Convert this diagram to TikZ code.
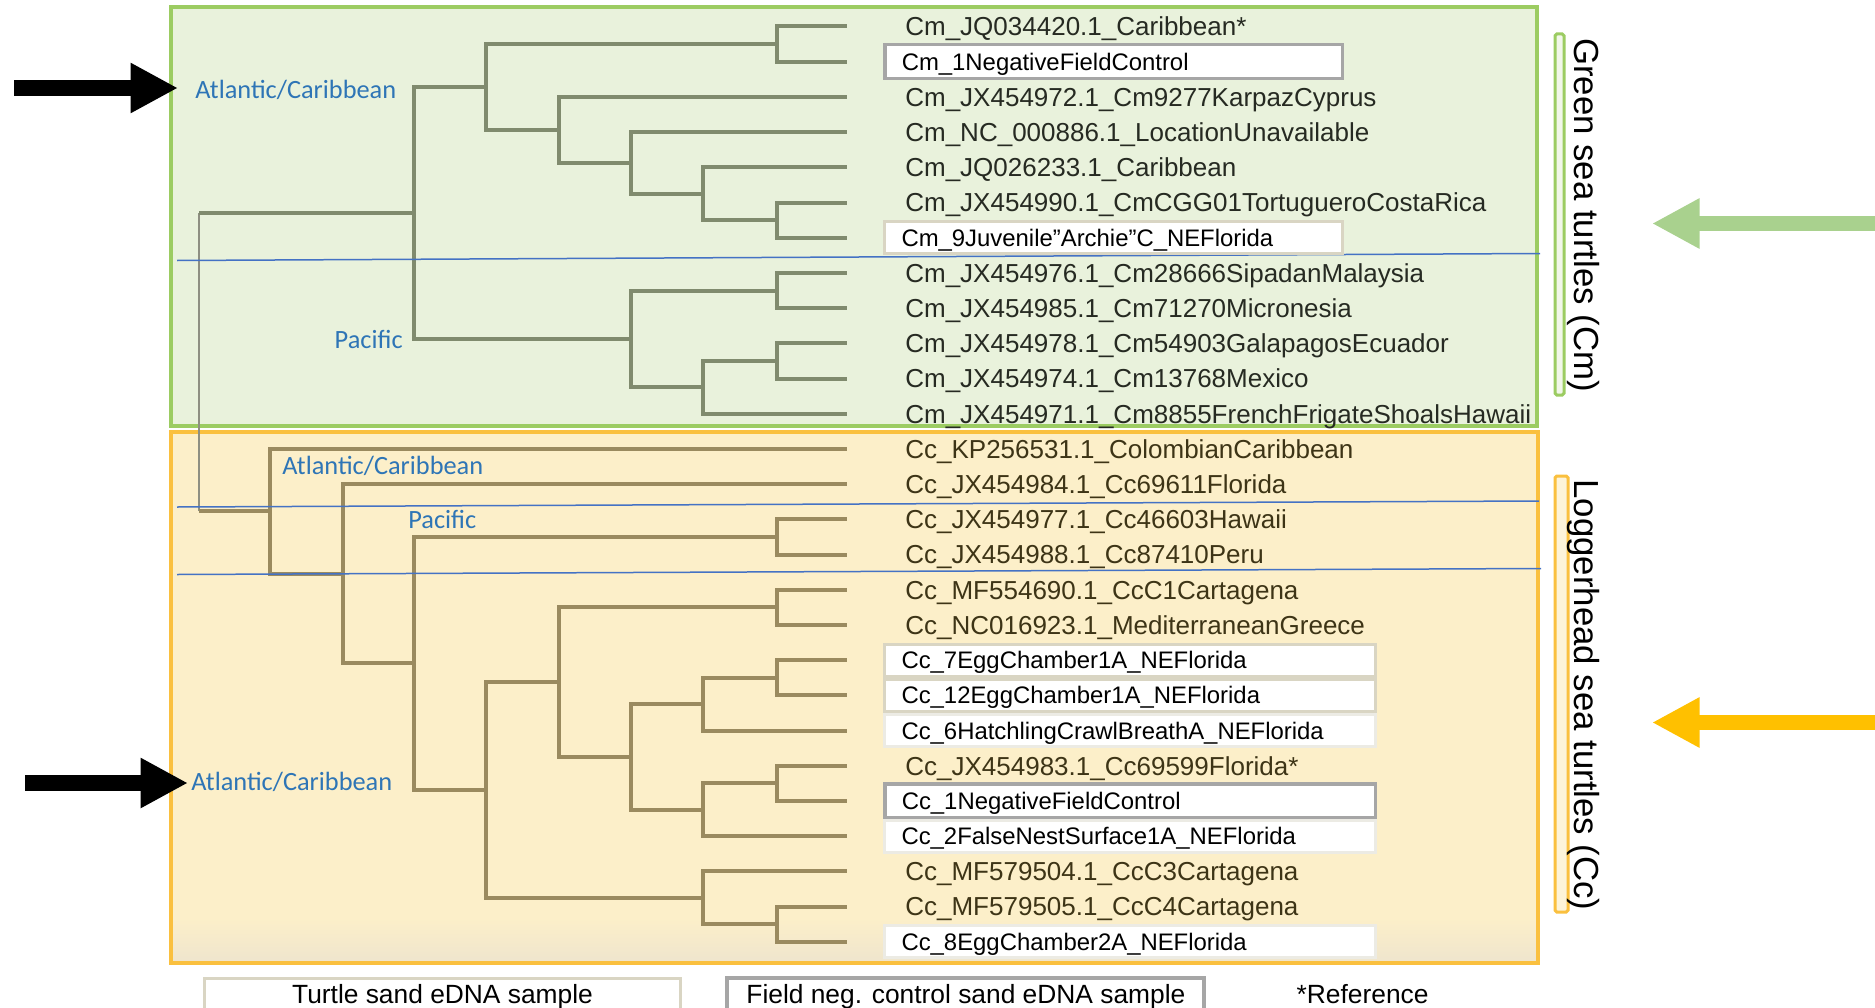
\documentclass[tikz,border=0pt]{standalone}
\usepackage{fontspec}
\setmainfont{Liberation Sans}
\newfontfamily\calibrifont{Carlito}
\usepackage{xcolor}
\usetikzlibrary{arrows.meta, positioning, calc}
\definecolor{cmfill}{HTML}{E9F2DC}
\definecolor{cmedge}{HTML}{9CCC62}
\definecolor{ccfill}{HTML}{FCEFC9}
\definecolor{ccshade}{HTML}{EFE5CD}
\definecolor{ccedge}{HTML}{FAC03F}
\definecolor{cmline}{HTML}{808B6E}
\definecolor{ccline}{HTML}{9A8A5F}
\definecolor{rootline}{HTML}{8E8F82}
\definecolor{cmtext}{HTML}{262A22}
\definecolor{cctext}{HTML}{3D3416}
\definecolor{regionblue}{HTML}{2E75B6}
\definecolor{splitblue}{HTML}{4472C4}
\definecolor{negedge}{HTML}{A6A6A6}
\definecolor{sampleedge}{HTML}{D9D5C3}
\definecolor{paleedge}{HTML}{ECEBE4}
\definecolor{cmarrow}{HTML}{A9D18E}
\definecolor{ccarrow}{HTML}{FFC000}
\tikzset{
  cmbr/.style    ={draw=cmline, line width=0.08cm},
  ccbr/.style    ={draw=ccline, line width=0.08cm},
  rootbr/.style  ={draw=rootline, line width=0.05cm},
  leaf/.style    ={inner sep=0pt, font=\fontsize{14.8}{17}\selectfont,
                   text height=10.6pt, text depth=0pt},
  sample/.style  ={rectangle, draw=sampleedge, line width=0.06cm, fill=white,
                   inner xsep=0.34cm, inner ysep=0pt, minimum height=0.64cm,
                   text height=9.7pt, text depth=0pt, align=left,
                   font=\fontsize{13.6}{16}\selectfont},
  negsample/.style={sample, draw=negedge, line width=0.07cm, minimum height=0.68cm},
  palesample/.style={sample, draw=paleedge},
  region/.style  ={font=\calibrifont\fontsize{15}{17}\selectfont, text=regionblue,
                   inner sep=0pt, text height=9.7pt, text depth=0pt},
  split/.style   ={draw=splitblue, line width=0.03cm},
  pointer/.style ={line width=0.32cm, -{Triangle[length=0.95cm, width=0.94cm]}}
}
\begin{document}
\begin{tikzpicture}[
  x=0.02cm, y=-0.02cm,
  cmwide/.style={text width=8.48cm},
  ccwide/.style={text width=9.14cm},
  turtle/.style={font=\fontsize{19.8}{22}\selectfont, inner sep=0pt,
                 text height=14.2pt, text depth=0pt, rotate=-90},
  legendbox/.style={rectangle, fill=white, line width=0.06cm,
                 minimum width=9.54cm, minimum height=0.66cm, inner sep=0pt,
                 text height=10.7pt, text depth=0pt, font=\fontsize{15}{18}\selectfont},
  keytext/.style={inner sep=0pt, text height=10.7pt, text depth=0pt,
                 font=\fontsize{15}{18}\selectfont}
]
\clip (0,0) rectangle (1875,1007);

%  Species panels 
\draw[draw=cmedge, fill=cmfill, line width=0.07cm] (171,7) rectangle (1537,426);
\fill[ccfill] (171,432) rectangle (1538,963);
\shade[top color=ccfill, bottom color=ccshade] (172,918) rectangle (1537,962);
\draw[draw=ccedge, line width=0.07cm] (171,432) rectangle (1538,963);
\draw[draw=cmedge, fill=cmfill!60!white, line width=0.06cm, rounded corners=1pt]
      (1555,34) rectangle (1564,395);
\draw[draw=ccedge, fill=ccfill!70!white, line width=0.06cm, rounded corners=1pt]
      (1555,476) rectangle (1568,912);

%  Leaf tips 
\foreach \i in {1,...,27}
  \coordinate (t\i) at (847,{26.5+35.2*(\i-1)});

%  Cm clade 
\coordinate (cmA12)   at (777,44.1);
\coordinate (cmA67)   at (777,220.1);
\coordinate (cmA5)    at (703,193.7);
\coordinate (cmA4)    at (631,162.9);
\coordinate (cmA3)    at (559,129.9);
\coordinate (cmAtl)   at (486,87.0);
\coordinate (cmP89)   at (777,290.5);
\coordinate (cmP1011) at (777,360.9);
\coordinate (cmP12)   at (703,387.3);
\coordinate (cmPac)   at (631,338.9);
\coordinate (cmRoot)  at (414,213.0);
\draw[cmbr] (cmA12) |- (t1) (cmA12) |- (t2);
\draw[cmbr] (cmA67) |- (t6) (cmA67) |- (t7);
\draw[cmbr] (cmA5) |- (t5) (cmA5) |- (cmA67);
\draw[cmbr] (cmA4) |- (t4) (cmA4) |- (cmA5);
\draw[cmbr] (cmA3) |- (t3) (cmA3) |- (cmA4);
\draw[cmbr] (cmAtl) |- (cmA12) (cmAtl) |- (cmA3);
\draw[cmbr] (cmP89) |- (t8) (cmP89) |- (t9);
\draw[cmbr] (cmP1011) |- (t10) (cmP1011) |- (t11);
\draw[cmbr] (cmP12) |- (cmP1011) (cmP12) |- (t12);
\draw[cmbr] (cmPac) |- (cmP89) (cmPac) |- (cmP12);
\draw[cmbr] (cmRoot) |- (cmAtl) (cmRoot) |- (cmPac);

%  Cc clade 
\coordinate (ccP1516) at (777,536.9);
\coordinate (cc1718)  at (777,607.3);
\coordinate (cc1920)  at (777,677.7);
\coordinate (cc21)    at (703,704.1);
\coordinate (cc2223)  at (777,783.3);
\coordinate (cc24)    at (703,809.7);
\coordinate (cc631)   at (631,756.9);
\coordinate (cc559)   at (559,682.1);
\coordinate (cc2627)  at (777,924.1);
\coordinate (cc25)    at (703,897.7);
\coordinate (ccAtl)   at (486,789.9);
\coordinate (cc414)   at (414,663.4);
\coordinate (cc343)   at (343,573.8);
\coordinate (ccRoot)  at (270,511.3);
\draw[ccbr] (ccP1516) |- (t15) (ccP1516) |- (t16);
\draw[ccbr] (cc1718) |- (t17) (cc1718) |- (t18);
\draw[ccbr] (cc1920) |- (t19) (cc1920) |- (t20);
\draw[ccbr] (cc21) |- (cc1920) (cc21) |- (t21);
\draw[ccbr] (cc2223) |- (t22) (cc2223) |- (t23);
\draw[ccbr] (cc24) |- (cc2223) (cc24) |- (t24);
\draw[ccbr] (cc631) |- (cc21) (cc631) |- (cc24);
\draw[ccbr] (cc559) |- (cc1718) (cc559) |- (cc631);
\draw[ccbr] (cc2627) |- (t26) (cc2627) |- (t27);
\draw[ccbr] (cc25) |- (t25) (cc25) |- (cc2627);
\draw[ccbr] (ccAtl) |- (cc559) (ccAtl) |- (cc25);
\draw[ccbr] (cc414) |- (ccP1516) (cc414) |- (ccAtl);
\draw[ccbr] (cc343) |- (t14) (cc343) |- (cc414);
\draw[ccbr] (ccRoot) |- (t13) (ccRoot) |- (cc343);

%  Root 
\coordinate (treeRoot) at (199,362.2);
\draw[rootbr] (treeRoot |- cmRoot) -- (treeRoot |- ccRoot);
\draw[cmbr] (treeRoot |- cmRoot) -- (cmRoot);
\draw[ccbr] (treeRoot |- ccRoot) -- (ccRoot);

%  Region dividers 
\coordinate (splitA1) at (177,260.5);  \coordinate (splitA2) at (1540,253.5);
\coordinate (splitB1) at (177,507);    \coordinate (splitB2) at (1539,501);
\coordinate (splitC1) at (177,574.5);  \coordinate (splitC2) at (1541,568.5);
\draw[split] (splitA1) -- (splitA2);
\draw[split] (splitB1) -- (splitB2);
\draw[split] (splitC1) -- (splitC2);

%  Region labels 
\node[region, anchor=west] (cmAtlLbl) at (195,90)  {Atlantic/Caribbean};
\node[region, anchor=east] (cmPacLbl) at (403,340) {Pacific};
\node[region, anchor=west] (ccAtlLbl) at (282,466) {Atlantic/Caribbean};
\node[region, anchor=west] (ccPacLbl) at (408,520) {Pacific};
\node[region, anchor=west] (ccNewLbl) at (191,782) {Atlantic/Caribbean};

%  Cm leaves 
\node[leaf, text=cmtext, right=1.16cm of t1]  (cm1)  {Cm\_JQ034420.1\_Caribbean*};
\node[negsample, cmwide, right=0.72cm of t2]  (cm2)  {Cm\_1NegativeFieldControl};
\node[leaf, text=cmtext, right=1.16cm of t3]  (cm3)  {Cm\_JX454972.1\_Cm9277KarpazCyprus};
\node[leaf, text=cmtext, right=1.16cm of t4]  (cm4)  {Cm\_NC\_000886.1\_LocationUnavailable};
\node[leaf, text=cmtext, right=1.16cm of t5]  (cm5)  {Cm\_JQ026233.1\_Caribbean};
\node[leaf, text=cmtext, right=1.16cm of t6]  (cm6)  {Cm\_JX454990.1\_CmCGG01TortugueroCostaRica};
\node[sample, cmwide, right=0.72cm of t7]     (cm7)  {Cm\_9Juvenile”Archie”C\_NEFlorida};
\node[leaf, text=cmtext, right=1.16cm of t8]  (cm8)  {Cm\_JX454976.1\_Cm28666SipadanMalaysia};
\node[leaf, text=cmtext, right=1.16cm of t9]  (cm9)  {Cm\_JX454985.1\_Cm71270Micronesia};
\node[leaf, text=cmtext, right=1.16cm of t10] (cm10) {Cm\_JX454978.1\_Cm54903GalapagosEcuador};
\node[leaf, text=cmtext, right=1.16cm of t11] (cm11) {Cm\_JX454974.1\_Cm13768Mexico};
\node[leaf, text=cmtext, right=1.16cm of t12] (cm12) {Cm\_JX454971.1\_Cm8855FrenchFrigateShoalsHawaii};

%  Cc leaves 
\node[leaf, text=cctext, right=1.16cm of t13] (cc1)  {Cc\_KP256531.1\_ColombianCaribbean};
\node[leaf, text=cctext, right=1.16cm of t14] (cc2)  {Cc\_JX454984.1\_Cc69611Florida};
\node[leaf, text=cctext, right=1.16cm of t15] (cc3)  {Cc\_JX454977.1\_Cc46603Hawaii};
\node[leaf, text=cctext, right=1.16cm of t16] (cc4)  {Cc\_JX454988.1\_Cc87410Peru};
\node[leaf, text=cctext, right=1.16cm of t17] (cc5)  {Cc\_MF554690.1\_CcC1Cartagena};
\node[leaf, text=cctext, right=1.16cm of t18] (cc6)  {Cc\_NC016923.1\_MediterraneanGreece};
\node[sample, ccwide, right=0.72cm of t19]    (cc7)  {Cc\_7EggChamber1A\_NEFlorida};
\node[sample, ccwide, right=0.72cm of t20]    (cc8)  {Cc\_12EggChamber1A\_NEFlorida};
\node[palesample, ccwide, right=0.72cm of t21] (cc9) {Cc\_6HatchlingCrawlBreathA\_NEFlorida};
\node[leaf, text=cctext, right=1.16cm of t22] (cc10) {Cc\_JX454983.1\_Cc69599Florida*};
\node[negsample, ccwide, right=0.72cm of t23] (cc11) {Cc\_1NegativeFieldControl};
\node[palesample, ccwide, right=0.72cm of t24] (cc12) {Cc\_2FalseNestSurface1A\_NEFlorida};
\node[leaf, text=cctext, right=1.16cm of t25] (cc13) {Cc\_MF579504.1\_CcC3Cartagena};
\node[leaf, text=cctext, right=1.16cm of t26] (cc14) {Cc\_MF579505.1\_CcC4Cartagena};
\node[palesample, ccwide, right=0.72cm of t27] (cc15) {Cc\_8EggChamber2A\_NEFlorida};

%  Species names 
\node[turtle] (cmName) at (1587,215) {Green sea turtles (Cm)};
\node[turtle] (ccName) at (1587,695) {Loggerhead sea turtles (Cc)};

%  Pointers 
\coordinate (ptrCmTail) at (14,88);    \coordinate (ptrCmTip) at (178,88);
\coordinate (ptrCcTail) at (25,783);   \coordinate (ptrCcTip) at (188,783);
\coordinate (ptrGrTail) at (1880,223.5); \coordinate (ptrGrTip) at (1652,223.5);
\coordinate (ptrLgTail) at (1880,722.5); \coordinate (ptrLgTip) at (1652,722.5);
\draw[pointer, black] (ptrCmTail) -- (ptrCmTip);
\draw[pointer, black] (ptrCcTail) -- (ptrCcTip);
\draw[pointer, cmarrow, line width=0.3cm] (ptrGrTail) -- (ptrGrTip);
\draw[pointer, ccarrow, line width=0.3cm] (ptrLgTail) -- (ptrLgTip);

%  Key 
\node[legendbox, draw=sampleedge] (keySample) at (442.5,994.5) {Turtle sand eDNA sample};
\node[legendbox, draw=negedge, line width=0.08cm, right=0.86cm of keySample] (keyNeg)
      {Field neg. control sand eDNA sample};
\node[keytext, right=1.8cm of keyNeg] (keyRef) {*Reference};
\end{tikzpicture}
\end{document}
